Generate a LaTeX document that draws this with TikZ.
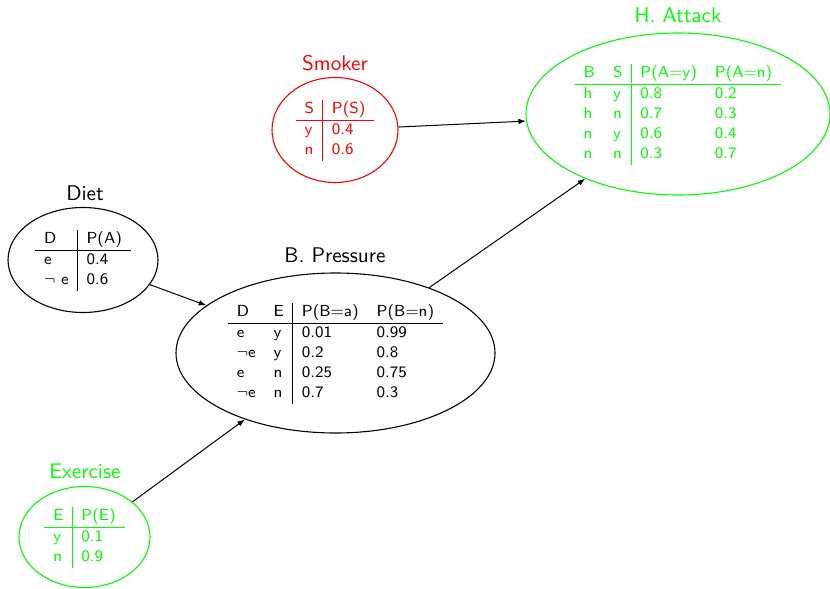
\documentclass[tikz,border=0pt]{standalone}
\usetikzlibrary{shapes.geometric,arrows.meta}
\renewcommand{\familydefault}{\sfdefault}
\setlength{\tabcolsep}{4.5pt}
\setlength{\arrayrulewidth}{0.5pt}
\begin{document}
\begin{tikzpicture}[x=0.5pt,y=-0.5pt,
  cpt/.style={ellipse, draw, line width=0.55pt, inner sep=0pt, font=\fontsize{8}{10}\selectfont},
  ttl/.style={anchor=base, inner sep=0pt, font=\fontsize{10.6}{12.5}\selectfont},
  dep/.style={-{Latex[length=3.8pt,width=2.8pt]}, line width=0.5pt}]
\useasboundingbox (0,0) rectangle (830,589);

% conditional probability tables, one per variable
\node[cpt, minimum width=75pt, minimum height=52.5pt] (diet) at (83,260)
  {\begin{tabular}{l|l}
   D & P(A)\\\hline
   e & 0.4\\
   $\neg$ e & 0.6
   \end{tabular}};
\node[ttl] (dietL) at (85,200) {Diet};

\node[cpt, minimum width=159.5pt, minimum height=80pt] (press) at (335.5,353)
  {\begin{tabular}{ll|ll}
   D & E & P(B=a) & P(B=n)\\\hline
   e & y & 0.01 & 0.99\\
   $\neg$e & y & 0.2 & 0.8\\
   e & n & 0.25 & 0.75\\
   $\neg$e & n & 0.7 & 0.3
   \end{tabular}};
\node[ttl] (pressL) at (335,262) {B. Pressure};

\node[cpt, draw=green, text=green, minimum width=152pt, minimum height=81pt] (attack) at (678,114)
  {\begin{tabular}{ll|ll}
   B & S & P(A=y) & P(A=n)\\\hline
   h & y & 0.8 & 0.2\\
   h & n & 0.7 & 0.3\\
   n & y & 0.6 & 0.4\\
   n & n & 0.3 & 0.7
   \end{tabular}};
\node[ttl, text=green] (attackL) at (678,23) {H. Attack};

\node[cpt, draw=red, text=red, minimum width=63pt, minimum height=52.5pt] (smoker) at (335,130)
  {\begin{tabular}{l|l}
   S & P(S)\\\hline
   y & 0.4\\
   n & 0.6
   \end{tabular}};
\node[ttl, text=red] (smokerL) at (335,70) {Smoker};

\node[cpt, draw=green, text=green, minimum width=65.5pt, minimum height=50.5pt] (exer) at (84.5,537)
  {\begin{tabular}{l|l}
   E & P(E)\\\hline
   y & 0.1\\
   n & 0.9
   \end{tabular}};
\node[ttl, text=green] (exerL) at (85,478) {Exercise};

% dependencies
\draw[dep] (diet) -- (press);
\draw[dep] (exer) -- (press);
\draw[dep] (press) -- (attack);
\draw[dep] (smoker) -- (attack);
\end{tikzpicture}
\end{document}
